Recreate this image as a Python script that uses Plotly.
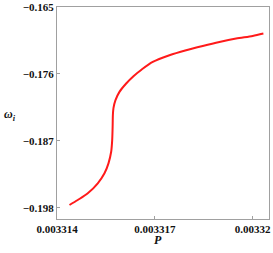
import plotly.graph_objects as go

P = [0.003314383, 0.003314637, 0.003314944, 0.003315250, 0.003315456, 0.003315578,
     0.003315661, 0.003315692, 0.003315707, 0.003315713, 0.003315731, 0.003315793,
     0.003315915, 0.003316121, 0.003316344, 0.003316589, 0.003316936, 0.003317447,
     0.003317959, 0.003318468, 0.003318980, 0.003319491, 0.003320000, 0.003320328]
omega = [-0.197556, -0.196735, -0.195635, -0.193993, -0.192352, -0.190710,
         -0.188806, -0.186885, -0.184422, -0.182780, -0.181631, -0.180318,
         -0.178955, -0.177576, -0.176377, -0.175310, -0.174030, -0.172930,
         -0.172109, -0.171403, -0.170746, -0.170188, -0.169761, -0.169367]

xtick_vals = [0.003314, 0.003317, 0.00332]
xtick_text = ["0.003314", "0.003317", "0.00332"]
ytick_vals = [-0.165, -0.176, -0.187, -0.198]
ytick_text = ["\u22120.165", "\u22120.176", "\u22120.187", "\u22120.198"]

fig = go.Figure(go.Scatter(x=P, y=omega, mode="lines",
                           line=dict(color="#ff1a1a", width=2, shape="spline", smoothing=0.8)))

font = dict(family="Liberation Serif", size=11, color="#111")
axis_common = dict(showgrid=False, zeroline=False, showline=True, linecolor="#a0a0a0", linewidth=1,
                   mirror=True, ticks="inside", ticklen=3, tickcolor="#a0a0a0", tickfont=font,
                   automargin=False)
fig.update_layout(
    width=273, height=253, margin=dict(l=57, r=4, t=7, b=34),
    paper_bgcolor="white", plot_bgcolor="white", showlegend=False,
    xaxis=dict(range=[0.003314, 0.0033205], tickvals=xtick_vals,
               ticktext=["<b>%s</b>" % t for t in xtick_text], **axis_common),
    yaxis=dict(range=[-0.19986, -0.165], tickvals=ytick_vals,
               ticktext=["<b>%s</b>" % t for t in ytick_text], **axis_common),
)
fig.add_annotation(text="<b><i>P</i></b>", xref="paper", yref="paper", x=0.475, y=-0.097,
                   xanchor="center", yanchor="middle", showarrow=False,
                   font=dict(family="Liberation Serif", size=12, color="#111"))
fig.add_annotation(text="<b><i>ω</i><sub><i>i</i></sub></b>", xref="paper", yref="paper", x=-0.258, y=0.49,
                   xanchor="left", yanchor="middle", showarrow=False,
                   font=dict(family="Liberation Serif", size=12, color="#111"))
fig.write_html("out.html", config={"displayModeBar": False},
               post_script="document.body.style.margin='0';document.body.style.overflow='hidden';")
